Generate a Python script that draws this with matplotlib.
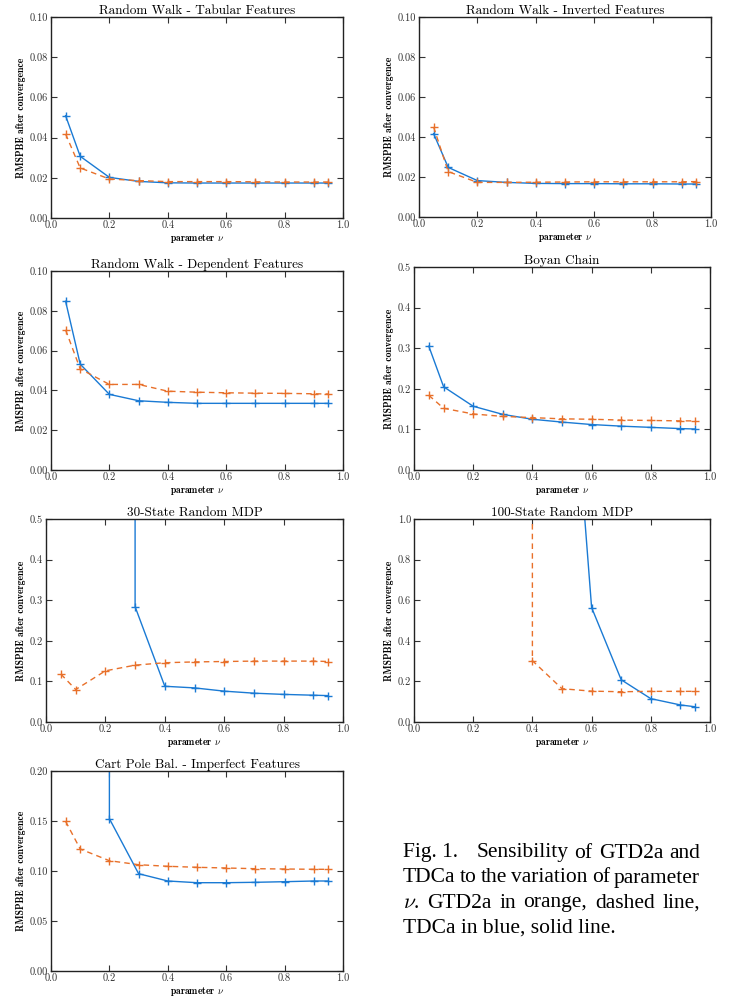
import numpy as np
import matplotlib
matplotlib.use('Agg')
import matplotlib.pyplot as plt

plt.rcParams['font.family'] = 'cmr10'
plt.rcParams['mathtext.fontset'] = 'cm'
plt.rcParams['axes.formatter.use_mathtext'] = True

nu = [0.05, 0.1, 0.2, 0.3, 0.4, 0.5, 0.6, 0.7, 0.8, 0.9, 0.95]
BIG = 1e3  # diverged runs, off the top of the axis

# GTD2a (orange, dashed) and TDCa (blue, solid)
tab_gtd = [0.0418, 0.0249, 0.0194, 0.0186, 0.0181, 0.0181, 0.0181, 0.0180, 0.0179, 0.0179, 0.0179]
tab_tdc = [0.0509, 0.0307, 0.0202, 0.0182, 0.0175, 0.0174, 0.0174, 0.0174, 0.0174, 0.0174, 0.0174]
inv_gtd = [0.0450, 0.0227, 0.0173, 0.0173, 0.0174, 0.0175, 0.0176, 0.0176, 0.0176, 0.0176, 0.0177]
inv_tdc = [0.0417, 0.0248, 0.0182, 0.0173, 0.0168, 0.0167, 0.0167, 0.0166, 0.0166, 0.0165, 0.0165]
dep_gtd = [0.0704, 0.0508, 0.0430, 0.0430, 0.0396, 0.0391, 0.0388, 0.0386, 0.0385, 0.0383, 0.0382]
dep_tdc = [0.0848, 0.0532, 0.0380, 0.0348, 0.0340, 0.0335, 0.0335, 0.0335, 0.0335, 0.0335, 0.0335]
boy_gtd = [0.184, 0.152, 0.138, 0.132, 0.129, 0.126, 0.125, 0.123, 0.122, 0.121, 0.121]
boy_tdc = [0.305, 0.205, 0.157, 0.137, 0.125, 0.118, 0.112, 0.108, 0.105, 0.102, 0.101]
m30_gtd = [0.118, 0.080, 0.126, 0.140, 0.146, 0.148, 0.149, 0.150, 0.150, 0.150, 0.149]
m30_tdc = [BIG, BIG, BIG, 0.284, 0.088, 0.084, 0.076, 0.071, 0.068, 0.066, 0.065]
m100_gtd = [BIG, BIG, BIG, BIG, 0.302, 0.164, 0.152, 0.149, 0.151, 0.151, 0.151]
m100_tdc = [BIG, BIG, BIG, BIG, BIG, 2.46, 0.564, 0.208, 0.115, 0.084, 0.075]
cp_gtd = [0.1497, 0.1220, 0.1103, 0.1063, 0.1047, 0.1037, 0.1030, 0.1023, 0.1020, 0.1017, 0.1017]
cp_tdc = [BIG, BIG, 0.1523, 0.0973, 0.0900, 0.0883, 0.0883, 0.0887, 0.0893, 0.0900, 0.0900]

titles = ['Random Walk - Tabular Features', 'Random Walk - Inverted Features',
          'Random Walk - Dependent Features', 'Boyan Chain',
          '30-State Random MDP', '100-State Random MDP',
          'Cart Pole Bal. - Imperfect Features']
gtd = [tab_gtd, inv_gtd, dep_gtd, boy_gtd, m30_gtd, m100_gtd, cp_gtd]
tdc = [tab_tdc, inv_tdc, dep_tdc, boy_tdc, m30_tdc, m100_tdc, cp_tdc]
ytops = [0.10, 0.10, 0.10, 0.5, 0.5, 1.0, 0.20]
ysteps = [0.02, 0.02, 0.02, 0.1, 0.1, 0.2, 0.05]
yfmt = ['%.2f', '%.2f', '%.2f', '%.1f', '%.1f', '%.1f', '%.2f']

W, H = 740., 1000.
# axes boxes in pixels: left, top, right, bottom
boxes = [(51, 17, 343, 218), (419, 17, 711, 217),
         (51, 271, 343, 470), (414, 267, 710, 470),
         (46, 519, 343, 722), (414, 519, 710, 722),
         (51, 771, 343, 971)]

blue = '#1a7ad4'
orange = '#e8702a'

fig = plt.figure(figsize=(7.4, 10), dpi=100)

for i in range(7):
    l, t, r, b = boxes[i]
    ax = fig.add_axes([l / W, 1 - b / H, (r - l) / W, (b - t) / H])
    ax.plot(nu, tdc[i], '-', color=blue, lw=1.0, marker='+', ms=6, mew=1.0)
    ax.plot(nu, gtd[i], '--', color=orange, lw=1.0, marker='+', ms=6, mew=1.0,
            dashes=(4, 3))
    ax.set_xlim(0, 1)
    ax.set_ylim(0, ytops[i])
    ax.set_xticks(np.arange(0, 1.01, 0.2))
    ax.set_yticks(np.arange(0, ytops[i] + 1e-9, ysteps[i]))
    ax.set_xticklabels(['%.1f' % v for v in np.arange(0, 1.01, 0.2)])
    ax.set_yticklabels([yfmt[i] % v for v in np.arange(0, ytops[i] + 1e-9, ysteps[i])])
    ax.tick_params(direction='in', top=True, right=True, length=4, width=0.8,
                   labelsize=7.5, colors='#333333', pad=2)
    for s in ax.spines.values():
        s.set_linewidth(1.0)
        s.set_color('#222222')
    ax.set_title(titles[i], fontsize=9.5, pad=2)
    ax.set_xlabel(r'parameter $\nu$', fontsize=7, fontfamily='cmb10', labelpad=1)
    ax.set_ylabel('RMSPBE after convergence', fontsize=7, fontfamily='cmb10', labelpad=3)

# caption, justified line by line
cap_words = [['Fig. 1.', 'Sensibility', 'of', 'GTD2a', 'and'],
             ['TDCa', 'to', 'the', 'variation', 'of', 'parameter'],
             [r'$\nu$.', 'GTD2a', 'in', 'orange,', 'dashed', 'line,'],
             ['TDCa in blue, solid line.']]
cap_y = [853, 878, 903, 928]
x0, x1 = 403 / W, 700 / W
fig.canvas.draw()
rend = fig.canvas.get_renderer()
for k, words in enumerate(cap_words):
    y = 1 - cap_y[k] / H
    objs = []
    widths = []
    for w in words:
        tx = fig.text(0, y, w, fontsize=15.5, family='Liberation Serif', va='center',
                      math_fontfamily='dejavuserif' if False else None)
        bb = tx.get_window_extent(rend)
        objs.append(tx)
        widths.append(bb.width / W)
    gaps = len(words) - 1
    if gaps == 0:
        objs[0].set_x(x0)
        continue
    weights = [1.0] * gaps
    if k == 0:
        weights[0] = 3.0
    g = (x1 - x0 - sum(widths)) / sum(weights)
    xx = x0
    for j, tx in enumerate(objs):
        tx.set_x(xx)
        xx += widths[j]
        if j < gaps:
            xx += g * weights[j]

fig.savefig('out.png', dpi=100)
